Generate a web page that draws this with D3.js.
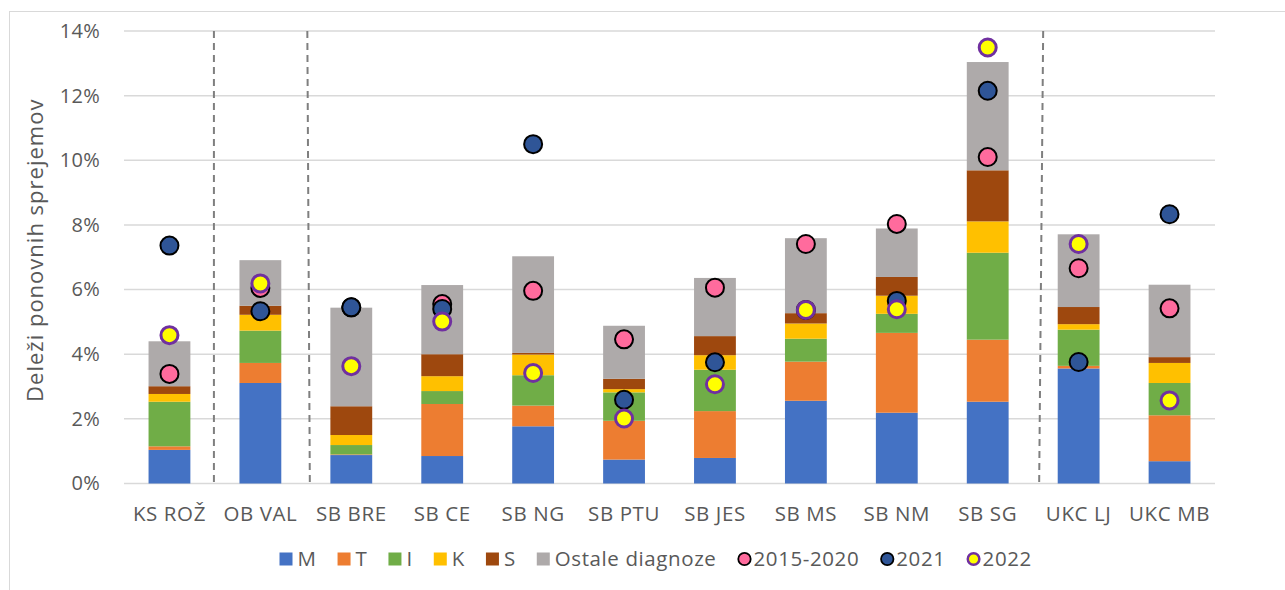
<!DOCTYPE html>
<html>
<head>
<meta charset="utf-8">
<script src="https://cdn.jsdelivr.net/npm/d3@7"></script>
<style>
  html, body { margin: 0; padding: 0; background: #ffffff; }
  svg { display: block; }
  text { font-family: "Open Sans", "Noto Sans", sans-serif; fill: #595959; }
</style>
</head>
<body>
<svg id="chart" width="1285" height="590"></svg>
<script>
// Hospitals (x categories)
const categories = ["KS ROŽ", "OB VAL", "SB BRE", "SB CE", "SB NG", "SB PTU",
                    "SB JES", "SB MS", "SB NM", "SB SG", "UKC LJ", "UKC MB"];

// Stacked shares of readmissions by diagnosis group (%)
const diagM      = [1.04, 3.11, 0.88, 0.85, 1.77, 0.74, 0.79, 2.56, 2.19, 2.53, 3.56, 0.69];
const diagT      = [0.11, 0.62, 0.02, 1.61, 0.64, 1.20, 1.45, 1.21, 2.47, 1.92, 0.08, 1.42];
const diagI      = [1.38, 1.00, 0.29, 0.40, 0.94, 0.88, 1.28, 0.71, 0.59, 2.69, 1.12, 1.00];
const diagK      = [0.24, 0.49, 0.31, 0.46, 0.64, 0.10, 0.45, 0.47, 0.56, 0.97, 0.17, 0.62];
const diagS      = [0.24, 0.28, 0.89, 0.68, 0.05, 0.32, 0.59, 0.32, 0.58, 1.58, 0.53, 0.18];
const diagOstale = [1.39, 1.41, 3.05, 2.14, 2.99, 1.64, 1.80, 2.32, 1.50, 3.35, 2.25, 2.24];

// Overall readmission shares per period (%)
const period2015_2020 = [3.39, 6.05, 5.45, 5.55, 5.96, 4.46, 6.06, 7.41, 8.03, 10.10, 6.66, 5.42];
const year2021        = [7.36, 5.33, 5.45, 5.40, 10.50, 2.59, 3.75, 5.37, 5.65, 12.15, 3.76, 8.33];
const year2022        = [4.59, 6.19, 3.63, 5.01, 3.42, 2.01, 3.07, 5.37, 5.39, 13.49, 7.41, 2.57];

// Axis ticks
const yTicks = [0, 2, 4, 6, 8, 10, 12, 14];

// Group separators: a dashed line is drawn after these categories
const dividerAfter = ["KS ROŽ", "OB VAL", "SB SG"];

// ---- series definitions (built from the arrays above) ----
const stackSeries = [
  { key: "M", name: "M", values: diagM, color: "#4472c4" },
  { key: "T", name: "T", values: diagT, color: "#ed7d31" },
  { key: "I", name: "I", values: diagI, color: "#70ad47" },
  { key: "K", name: "K", values: diagK, color: "#ffc000" },
  { key: "S", name: "S", values: diagS, color: "#9e480e" },
  { key: "O", name: "Ostale diagnoze", values: diagOstale, color: "#aeaaaa" }
];
const pointSeries = [
  { name: "2015-2020", values: period2015_2020, fill: "#ff6b9d", stroke: "#000000", sw: 2 },
  { name: "2021",      values: year2021,        fill: "#2f5597", stroke: "#000000", sw: 2 },
  { name: "2022",      values: year2022,        fill: "#ffff00", stroke: "#7030a0", sw: 3 }
];

const rows = categories.map((c, i) => {
  const r = { cat: c };
  stackSeries.forEach(s => { r[s.key] = s.values[i]; });
  return r;
});

// ---- layout ----
const svg = d3.select("#chart");
const plot = { left: 124, right: 1215, top: 31, bottom: 483.5 };
const labelSize = "20.5px";
const labelSpacing = "0.6px";

const x = d3.scaleBand()
  .domain(categories)
  .range([plot.left, plot.right])
  .paddingInner(0.54)
  .paddingOuter(0.27);

const y = d3.scaleLinear()
  .domain([0, 14])
  .range([plot.bottom, plot.top]);

// outer chart frame
svg.append("rect")
  .attr("x", 9.5).attr("y", 11.5)
  .attr("width", 1400).attr("height", 700)
  .attr("fill", "none")
  .attr("stroke", "#d9d9d9")
  .attr("stroke-width", 1);

// horizontal gridlines
svg.append("g")
  .selectAll("line")
  .data(yTicks)
  .join("line")
  .attr("x1", plot.left).attr("x2", plot.right)
  .attr("y1", d => y(d)).attr("y2", d => y(d))
  .attr("stroke", "#d9d9d9")
  .attr("stroke-width", 1.5);

// y axis tick labels
const yAxis = d3.axisLeft(y)
  .tickValues(yTicks)
  .tickFormat(d => d + "%")
  .tickSize(0)
  .tickPadding(24);
const yAxisG = svg.append("g")
  .attr("transform", `translate(${plot.left},0)`)
  .call(yAxis);
yAxisG.select(".domain").remove();
yAxisG.selectAll("text")
  .style("font-size", "20px")
  .style("letter-spacing", "0.3px")
  .attr("fill", "#595959");

// x axis labels
const xAxis = d3.axisBottom(x).tickSize(0).tickPadding(23);
const xAxisG = svg.append("g")
  .attr("transform", `translate(0,${plot.bottom})`)
  .call(xAxis);
xAxisG.select(".domain").remove();
xAxisG.selectAll("text")
  .style("font-size", labelSize)
  .style("letter-spacing", labelSpacing)
  .attr("fill", "#595959");

// y axis title
svg.append("text")
  .attr("transform", `translate(43,${(plot.top + plot.bottom) / 2 - 7}) rotate(-90)`)
  .attr("text-anchor", "middle")
  .style("font-size", "22px")
  .style("letter-spacing", "1px")
  .text("Deleži ponovnih sprejemov");

// dashed group separators
const step = x.step();
const dividerNudge = { "KS ROŽ": [-1, -1], "OB VAL": [1.5, 4], "SB SG": [10, 6] };
svg.append("g")
  .selectAll("line")
  .data(dividerAfter)
  .join("line")
  .attr("x1", d => x(d) + x.bandwidth() / 2 + step / 2 + dividerNudge[d][0])
  .attr("x2", d => x(d) + x.bandwidth() / 2 + step / 2 + dividerNudge[d][1])
  .attr("y1", y(14))
  .attr("y2", y(0))
  .attr("stroke", "#7f7f7f")
  .attr("stroke-width", 2)
  .attr("stroke-dasharray", "7,5");

// stacked bars
const stacked = d3.stack().keys(stackSeries.map(s => s.key))(rows);
svg.append("g")
  .selectAll("g")
  .data(stacked)
  .join("g")
  .attr("fill", (d, i) => stackSeries[i].color)
  .selectAll("rect")
  .data(d => d)
  .join("rect")
  .attr("x", d => x(d.data.cat))
  .attr("width", x.bandwidth())
  .attr("y", d => y(d[1]))
  .attr("height", d => Math.max(0, y(d[0]) - y(d[1])));

// period markers (drawn in order: 2015-2020, 2021, 2022 on top)
pointSeries.forEach(s => {
  svg.append("g")
    .selectAll("circle")
    .data(s.values.map((v, i) => ({ cat: categories[i], v })).filter(d => d.v != null))
    .join("circle")
    .attr("cx", d => x(d.cat) + x.bandwidth() / 2)
    .attr("cy", d => y(d.v))
    .attr("r", s.sw === 3 ? 8.5 : 9)
    .attr("fill", s.fill)
    .attr("stroke", s.stroke)
    .attr("stroke-width", s.sw);
});

// legend
const legend = svg.append("g");
const legendItems = [
  ...stackSeries.map(s => ({ type: "rect", name: s.name, color: s.color })),
  ...pointSeries.map(s => ({ type: "circle", name: s.name, fill: s.fill, stroke: s.stroke, sw: s.sw }))
];
let lx = 279.5;
const ly = 559;
legendItems.forEach(it => {
  const g = legend.append("g");
  let textX;
  if (it.type === "rect") {
    g.append("rect")
      .attr("x", lx).attr("y", ly - 6.5)
      .attr("width", 13).attr("height", 13)
      .attr("fill", it.color);
    textX = lx + 18;
  } else {
    g.append("circle")
      .attr("cx", lx + 7).attr("cy", ly)
      .attr("r", it.sw === 3 ? 5.8 : 6.2)
      .attr("fill", it.fill)
      .attr("stroke", it.stroke)
      .attr("stroke-width", it.sw === 3 ? 2.5 : 1.8);
    textX = lx + 16;
  }
  const t = g.append("text")
    .attr("x", textX).attr("y", ly)
    .attr("dy", "0.35em")
    .style("font-size", labelSize)
    .style("letter-spacing", labelSpacing)
    .text(it.name);
  lx = textX + t.node().getComputedTextLength() + 21;
});
</script>
</body>
</html>
